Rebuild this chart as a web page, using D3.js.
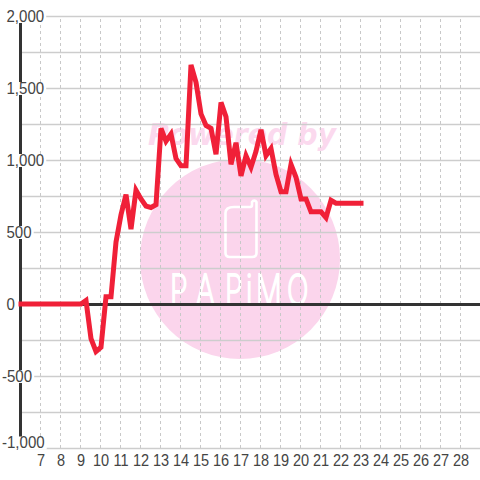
<!DOCTYPE html>
<html><head><meta charset="utf-8">
<script src="https://cdn.jsdelivr.net/npm/d3@7/dist/d3.min.js"></script>
<style>html,body{margin:0;padding:0;background:#fff}svg{display:block}</style>
</head><body><svg id="c" width="480" height="480"></svg>
<script>
const hours = [6,6.25,6.5,6.75,7,7.25,7.5,7.75,8,8.25,8.5,8.75,9,9.25,9.5,9.75,10,10.25,10.5,10.75,11,11.25,11.5,11.75,12,12.25,12.5,12.75,13,13.25,13.5,13.75,14,14.25,14.5,14.75,15,15.25,15.5,15.75,16,16.25,16.5,16.75,17,17.25,17.5,17.75,18,18.25,18.5,18.75,19,19.25,19.5,19.75,20,20.25,20.5,20.75,21,21.25,21.5,21.75,22,22.25,22.5,22.75,23];
const values = [0,0,0,0,0,0,0,0,0,0,0,0,0,25,-240,-330,-300,50,50,430,620,760,520,790,730,680,670,690,1220,1130,1180,1010,960,960,1660,1540,1320,1240,1220,1040,1400,1300,970,1120,890,1030,950,1060,1210,1030,1080,900,780,780,970,880,730,730,640,640,640,600,720,700,700,700,700,700,700];
const xTicks = [7,8,9,10,11,12,13,14,15,16,17,18,19,20,21,22,23,24,25,26,27,28];
const yGrid = [-1000,-750,-500,-250,0,250,500,750,1000,1250,1500,1750,2000];
const yLabels = [2000,1500,1000,500,0,-500,-1000];

const svg = d3.select("#c");
const x = d3.scaleLinear().domain([7,28]).range([40,460]);
const y = d3.scaleLinear().domain([-1000,2000]).range([448,16]);
const fmt = d => d3.format(",")(d).replace("\u2212","-");
const font = "'Liberation Sans', Arial, sans-serif";
const squeeze = (node,k) => node.setAttribute("textLength", node.getComputedTextLength()*k);

// watermark
const wm = svg.append("g");
wm.append("text").attr("x",148).attr("y",145)
  .attr("font-family","'DejaVu Sans'").attr("font-weight","bold").attr("font-style","italic")
  .attr("font-size",30).attr("textLength",188).attr("lengthAdjust","spacingAndGlyphs")
  .attr("fill","#fbd9ee").text("Powered by");
wm.append("circle").attr("cx",240).attr("cy",259).attr("r",100).attr("fill","#fbd5ec");
wm.append("path").attr("d","M234 207 H250 Q252 207 252 205 V202 A2.5 2.5 0 0 1 256.500 202 V253 Q256.500 257 252 257 H230 Q225.500 257 225.500 253 V213 Q225.500 207 234 207 Z")
  .attr("fill","none").attr("stroke","#fff").attr("stroke-width",2.6).attr("stroke-linejoin","round");
wm.append("text").attr("transform","scale(0.68,1)")
  .attr("x",[170,196,225,246,256,287].map(v=>v/0.68).join(" ")).attr("y",305)
  .attr("font-family","Inter").attr("font-weight",200)
  .attr("font-size",42)
  .attr("fill","#fff").attr("stroke","#fff").attr("stroke-width",2).text("PAPiMO");

// grid
const gx = svg.append("g").attr("transform","translate(0,448)")
  .call(d3.axisBottom(x).tickValues(xTicks).tickSize(-432).tickFormat(d=>d));
gx.select(".domain").remove();
gx.selectAll("line").attr("stroke","#c8c8c8").attr("stroke-width",1).attr("stroke-dasharray","3,3");
gx.selectAll("text").attr("x",0.5).attr("y",6).attr("dy","0.75em").attr("font-family",font).attr("font-size",16.5).attr("fill","#444")
  .attr("lengthAdjust","spacingAndGlyphs").each(function(){squeeze(this,0.88)});

const gy = svg.append("g").attr("transform","translate(480,0)")
  .call(d3.axisLeft(y).tickValues(yGrid).tickSize(460).tickFormat(""));
gy.select(".domain").remove();
gy.selectAll("line").attr("stroke",d=>d===0?"#333":"#cdcdcd").attr("stroke-width",d=>d===0?3:1.4);

// y axis line
svg.append("line").attr("x1",20.5).attr("x2",20.5).attr("y1",y(2000)).attr("y2",y(-1000))
  .attr("stroke","#333").attr("stroke-width",3);

// y labels
const lab = svg.append("g").selectAll("g").data(yLabels).join("g");
lab.each(function(d){
  const g = d3.select(this);
  const cy = Math.min(y(d), 442.500);
  const t = g.append("text").attr("x", d<0?2:6.5).attr("y",cy+5.500)
    .attr("font-family",font).attr("font-size",16).attr("fill","#444")
    .attr("lengthAdjust","spacingAndGlyphs").text(fmt(d));
  squeeze(t.node(),0.94);
  const b = t.node().getBBox();
  g.insert("rect","text").attr("x",b.x-1).attr("width",b.width+3).attr("y",cy-6).attr("height",13).attr("fill","#fff");
});

// series
const line = d3.line().x((d,i)=>x(hours[i])).y(d=>y(d));
svg.append("path").datum(values).attr("d",line).attr("transform","translate(1,0)").attr("fill","none")
  .attr("stroke","#f02038").attr("stroke-width",5).attr("stroke-linecap","square").attr("stroke-linejoin","miter");
</script></body></html>
